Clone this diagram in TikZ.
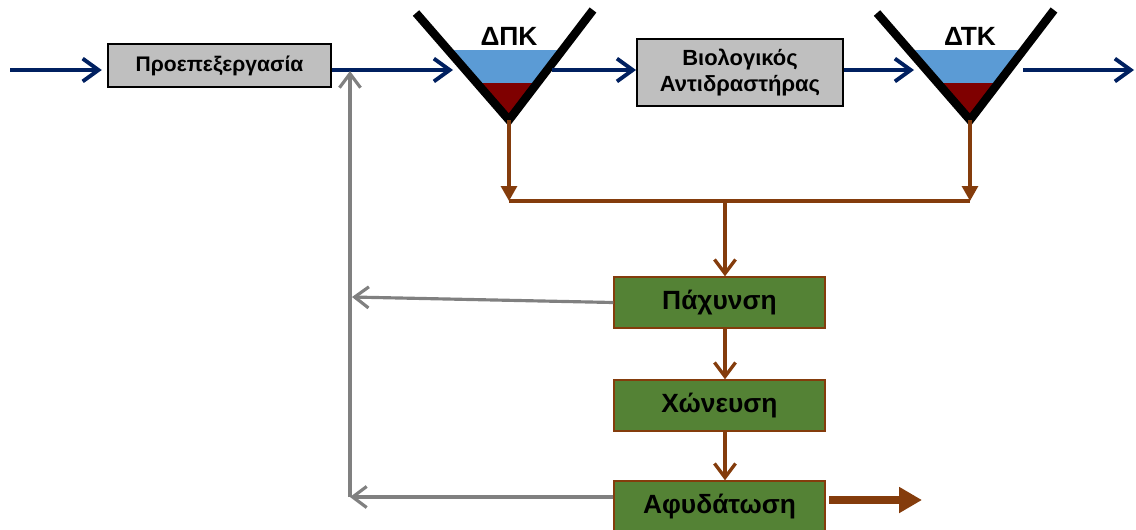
\documentclass[tikz,border=0pt]{standalone}
\usepackage{fontspec}
\setmainfont{Liberation Sans}
\usepackage{tikz}
\usetikzlibrary{arrows.meta,calc,positioning}
\definecolor{flownavy}{HTML}{002060}
\definecolor{sludgebrown}{HTML}{843C0C}
\definecolor{retgray}{HTML}{808080}
\definecolor{boxgray}{HTML}{BFBFBF}
\definecolor{boxgreen}{HTML}{548235}
\definecolor{water}{HTML}{5B9BD5}
\definecolor{sludgered}{HTML}{7F0000}

\begin{document}
\begin{tikzpicture}[x=0.02cm,y=-0.02cm,
  flow/.style={flownavy,line width=2.2pt,-{Straight Barb[length=9pt,width=13pt]}},
  sludge/.style={sludgebrown,line width=1.9pt,-{Straight Barb[length=8pt,width=12pt]}},
  drain/.style={sludgebrown,line width=1.9pt,-{Triangle[length=8.5pt,width=9pt]}},
  back/.style={retgray,line width=1.8pt,-{Straight Barb[length=8pt,width=12pt]}},
  unitbox/.style={draw=black,line width=1.1pt,fill=boxgray,font=\bfseries,align=center,inner sep=0pt},
  sludgebox/.style={draw=sludgebrown,line width=0.8pt,fill=boxgreen,inner sep=0pt,
    font=\bfseries\fontsize{15}{17}\selectfont,minimum width=4.22cm,minimum height=1.02cm}]
\useasboundingbox (0,0) rectangle (1136,529);
% treatment line
\node[unitbox,minimum width=4.46cm,minimum height=0.86cm,font=\bfseries\fontsize{12}{14}\selectfont] (pre) at (219.5,65.5) {Προεπεξεργασία};
\node[unitbox,minimum width=4.12cm,minimum height=1.34cm,font=\bfseries\fontsize{12.5}{15.3}\selectfont] (bio) at (740,72.5) {Βιολογικός\\Αντιδραστήρας};
% settling tanks
\foreach \nm/\lab/\bx/\ox in {dpk/ΔΠΚ/509/43,dtk/ΔΤΚ/970/53}{
  \begin{scope}[shift={(\bx,120)}]
    \begin{scope}
      \clip (-93,-107) -- (0,0) -- (84,-110) -- cycle;
      \fill[water] (-100,-70) rectangle (100,-37);
      \fill[sludgered] (-100,-37) rectangle (100,5);
    \end{scope}
    \draw[line width=4.8pt] (-93,-107) -- (0,0) -- (84,-110);
    \node[font=\bfseries\fontsize{15}{17}\selectfont] (\nm) at (0,-84) {\lab};
    \coordinate (\nm-in) at (-56,-50);
    \coordinate (\nm-out) at (\ox,-50);
    \coordinate (\nm-bot) at (0,0);
  \end{scope}
}
\coordinate (feed) at (10,70);
\coordinate (effluent) at (1134,70);
\draw[flow,shorten >=3pt] (feed) -- (pre.west |- feed);
\draw[flow] (pre.east |- dpk-in) -- (dpk-in);
\draw[flow] (dpk-out) -- (bio.west |- dpk-out);
\draw[flow] (bio.east |- dtk-in) -- (dtk-in);
\draw[flow] (dtk-out) -- (effluent);
% sludge line
\node[sludgebox] (thick) at (719.5,302.5) {Πάχυνση};
\node[sludgebox] (dig) at (719.5,405.5) {Χώνευση};
\node[sludgebox] (dew) at (719.5,506.5) {Αφυδάτωση};
\coordinate (collect) at (725,201);
\coordinate (cake) at (922,500);
\draw[drain] (dpk-bot) -- (dpk-bot |- collect);
\draw[drain] (dtk-bot) -- (dtk-bot |- collect);
\draw[sludgebrown,line width=1.9pt] (dpk-bot |- collect) -- (dtk-bot |- collect);
\draw[sludge] (collect) -- (collect |- thick.north);
\draw[sludge] (thick.south -| collect) -- (collect |- dig.north);
\draw[sludge] (dig.south -| collect) -- (collect |- dew.north);
\draw[sludgebrown,line width=4.5pt,-{Triangle[length=13pt,width=14pt]},shorten <=2pt] (dew.east |- cake) -- (cake);
% return flows
\coordinate (ret-a) at (352,297);
\coordinate (ret-b) at (350,497);
\coordinate (ret-up) at (350,71);
\draw[back] (thick.west) -- (ret-a);
\draw[back] (dew.west |- ret-b) -- (ret-b);
\draw[back] (ret-b) -- (ret-up);
\end{tikzpicture}
\end{document}
